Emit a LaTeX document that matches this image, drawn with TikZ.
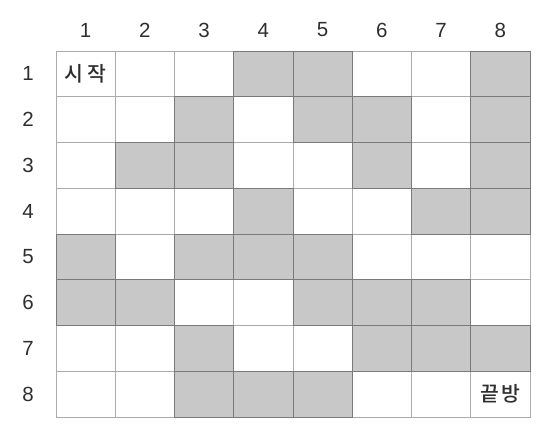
\documentclass[tikz,border=0pt]{standalone}
\usepackage{fontspec}
\setmainfont{Liberation Sans}
\newfontfamily\kor[UprightFont={* Medium}]{Noto Sans CJK KR}
\usetikzlibrary{positioning}
\definecolor{wall}{HTML}{C8C8C8}
\definecolor{edge}{HTML}{ABABAB}
\definecolor{dark}{HTML}{7A7A7A}
\definecolor{ink}{HTML}{2E2E2E}
\tikzset{
  room/.style={draw=edge,line width=1pt,minimum width=59.25pt,minimum height=45.75pt,inner sep=0pt,outer sep=0pt},
  num/.style={font=\fontsize{20.5}{20.5}\selectfont,text=ink},
  tag/.style={font=\kor\fontsize{20.5}{20.5}\selectfont,text=ink},
}
\begin{document}
\begin{tikzpicture}[x=1pt,y=-1pt]
\useasboundingbox (0,0) rectangle (558,440);
% rooms
\foreach \r in {1,...,8} \foreach \c in {1,...,8}
  \node[room] (r\r-\c) at ({56+59.25*(\c-0.5)},{51+45.75*(\r-0.5)}) {};
% walls
\foreach \r/\cs in {1/{4,5,8},2/{3,5,6,8},3/{2,3,6,8},4/{4,7,8},5/{1,3,4,5},6/{1,2,5,6,7},7/{3,6,7,8},8/{3,4,5}}
  \foreach \c in \cs
    \filldraw[fill=wall,draw=dark,line width=1pt] (r\r-\c.north west) rectangle (r\r-\c.south east);
% numbers
\foreach \c in {1,...,8} \node[num] (col\c) at ({56+59.25*(\c-0.5)},30) {\c};
\foreach \r in {1,...,8} \node[num] (row\r) at (28,{51+45.75*(\r-0.5)}) {\r};
\node[tag] (start) at (r1-1) {시\hspace{4pt}작};
\node[tag] (goal) at (r8-8) {끝\hspace{3pt}방};
\end{tikzpicture}
\end{document}
